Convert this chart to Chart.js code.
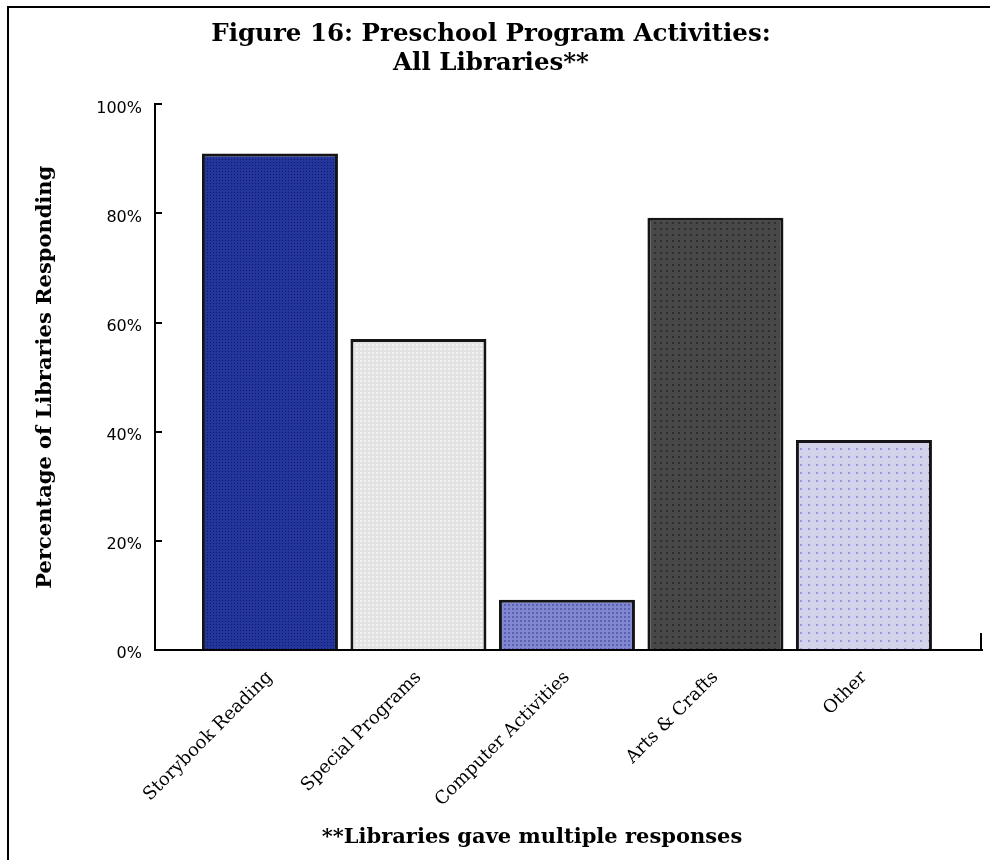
<!DOCTYPE html>
<html>
<head>
<meta charset="utf-8">
<script src="https://cdn.jsdelivr.net/npm/chart.js@4/dist/chart.umd.min.js"></script>
<style>
  html, body { margin: 0; padding: 0; background: #fff; }
</style>
</head>
<body>
<canvas id="chart" width="990" height="860"></canvas>
<script>
const titleLines = ["Figure 16: Preschool Program Activities:", "All Libraries**"];
const categories = ["Storybook Reading", "Special Programs", "Computer Activities", "Arts & Crafts", "Other"];
const percentResponding = [91, 57, 9.2, 79.2, 38.5];
const yTicks = [0, 20, 40, 60, 80, 100];
const yTitle = "Percentage of Libraries Responding";
const footnote = "**Libraries gave multiple responses";

const canvas = document.getElementById("chart");
const ctx = canvas.getContext("2d");

// small repeating textures, like the old office chart fills
function dotFill(bg, dot, step, size) {
  const c = document.createElement("canvas");
  c.width = step;
  c.height = step;
  const g = c.getContext("2d");
  g.fillStyle = bg;
  g.fillRect(0, 0, step, step);
  g.fillStyle = dot;
  g.fillRect(0, 0, size, size);
  return ctx.createPattern(c, "repeat");
}

const barFills = [
  dotFill("#24369c", "#0f1a6a", 3, 1),
  dotFill("#e2e2e2", "#f2f2f2", 4, 2),
  dotFill("#8088d2", "#6060b2", 4, 2),
  dotFill("#484848", "#2e2e2e", 6, 2),
  dotFill("#d2d2ea", "#9898da", 8, 2),
];

const pagePlugin = {
  id: "page",
  beforeDraw(chart) {
    const c = chart.ctx;
    c.save();
    c.fillStyle = "#fff";
    c.fillRect(0, 0, chart.width, chart.height);
    c.strokeStyle = "#000";
    c.lineWidth = 2;
    c.beginPath();
    c.moveTo(8, chart.height);
    c.lineTo(8, 7);
    c.lineTo(chart.width, 7);
    c.stroke();
    c.restore();
  },
  afterDraw(chart) {
    const c = chart.ctx;
    const a = chart.chartArea;
    c.save();
    c.strokeStyle = "#000";
    c.lineWidth = 2;
    c.beginPath();
    c.moveTo(a.right - 1, a.bottom);
    c.lineTo(a.right - 1, a.bottom - 17);
    c.stroke();
    c.fillStyle = "#000";
    c.font = "bold 21px 'DejaVu Serif'";
    c.textAlign = "center";
    c.textBaseline = "middle";
    c.fillText(footnote, 532, 838);
    c.restore();
  },
};

new Chart(ctx, {
  type: "bar",
  plugins: [pagePlugin],
  data: {
    datasets: [
      {
        data: categories.map((c, i) => ({ x: i, y: percentResponding[i] })),
        backgroundColor: barFills,
        borderColor: "#141414",
        borderWidth: 3,
        barPercentage: 0.916,
        categoryPercentage: 1,
      },
    ],
  },
  options: {
    responsive: false,
    animation: false,
    layout: { padding: { left: 0, right: 8, top: 0, bottom: 0 } },
    plugins: {
      legend: { display: false },
      tooltip: { enabled: false },
      title: {
        display: true,
        text: titleLines,
        color: "#000",
        font: { family: "DejaVu Serif", size: 24.5, weight: "bold", lineHeight: 1.15 },
        padding: { top: 21, bottom: 27 },
      },
    },
    scales: {
      x: {
        type: "linear",
        offset: false,
        min: -0.774,
        max: 4.795,
        afterBuildTicks: (s) => {
          s.ticks = categories.map((c, i) => ({ value: i }));
        },
        afterFit: (s) => {
          s.height = 210;
        },
        grid: { display: false },
        border: { display: true, color: "#000", width: 2 },
        ticks: {
          autoSkip: false,
          minRotation: 45,
          maxRotation: 45,
          padding: 9,
          color: "#000",
          font: { family: "DejaVu Serif", size: 18 },
          callback: (v) => categories[v],
        },
      },
      y: {
        min: 0,
        max: 100,
        afterBuildTicks: (s) => {
          s.ticks = yTicks.map((v) => ({ value: v }));
        },
        afterFit: (s) => {
          s.width = 155;
        },
        grid: {
          display: true,
          drawOnChartArea: false,
          drawTicks: true,
          tickLength: -7,
          color: "#000",
          lineWidth: 2,
        },
        border: { display: true, color: "#000", width: 2 },
        ticks: {
          padding: 20,
          labelOffset: 4,
          color: "#000",
          font: { family: "DejaVu Sans", size: 16 },
          callback: (v) => v + "%",
        },
        title: {
          display: true,
          text: yTitle,
          color: "#000",
          font: { family: "DejaVu Serif", size: 21, weight: "bold" },
          padding: { top: 33, bottom: 0 },
        },
      },
    },
  },
});
</script>
</body>
</html>
